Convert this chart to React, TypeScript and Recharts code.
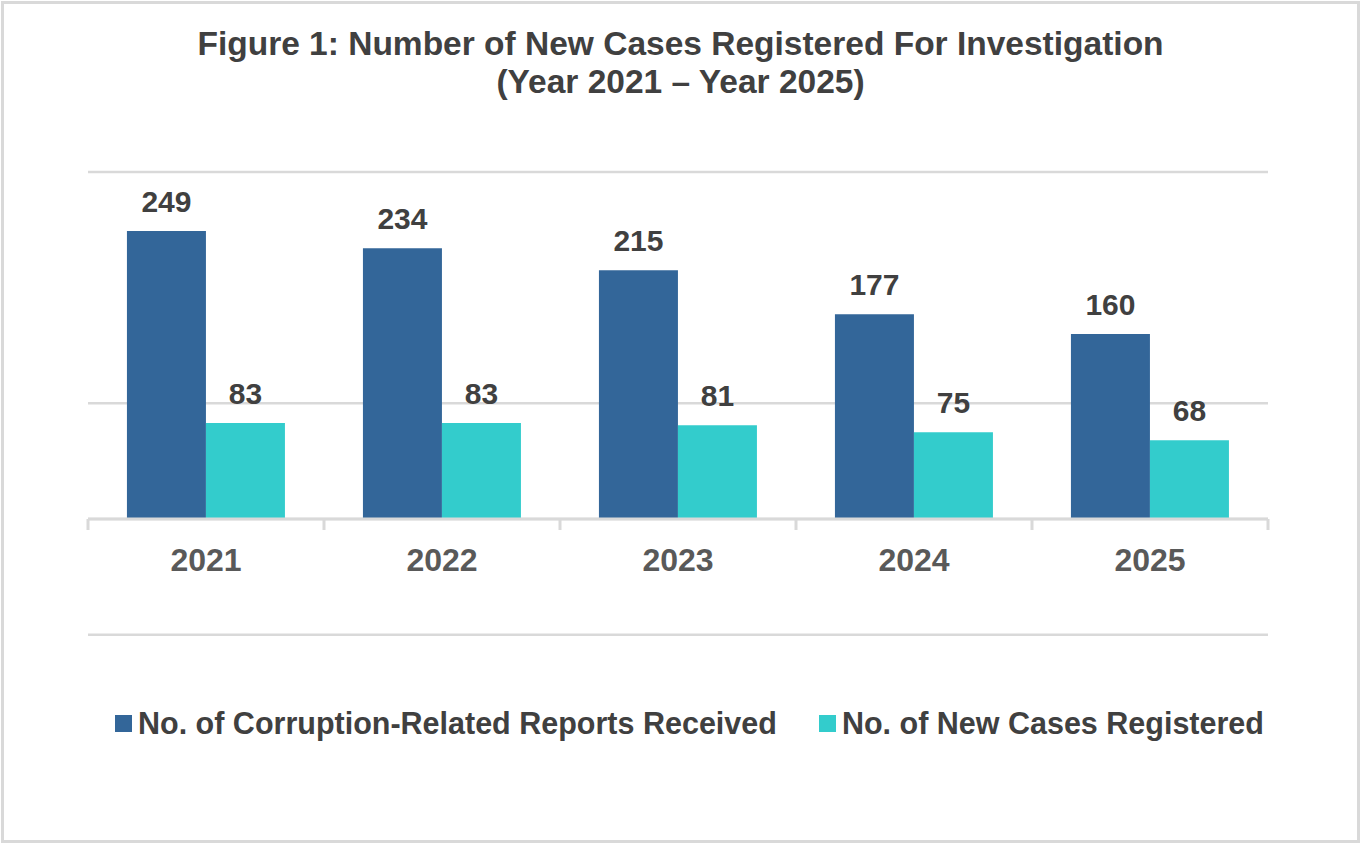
import { BarChart, Bar, XAxis, YAxis, CartesianGrid, ReferenceLine, LabelList } from 'recharts'

const years = ['2021', '2022', '2023', '2024', '2025']
const reportsReceived = [249, 234, 215, 177, 160]
const casesRegistered = [83, 83, 81, 75, 68]
const gridTicks = [0, 100, 300]

const data = years.map((year, i) => ({
  year,
  reports: reportsReceived[i],
  cases: casesRegistered[i],
}))

const W = 1361
const H = 844
const MARGIN = { top: 172, right: 93, left: 88, bottom: 209 }
const BAND = (W - MARGIN.left - MARGIN.right) / years.length

const BLUE = '#336699'
const CYAN = '#33CCCC'
const GRID = '#d9d9d9'
const FONT = '"Liberation Sans", Arial, sans-serif'

const YearTick = ({ x, y, payload, index }: any) => (
  <g>
    <line x1={x - BAND / 2} x2={x - BAND / 2} y1={y} y2={y + 11} stroke={GRID} strokeWidth={3} />
    {index === years.length - 1 && (
      <line x1={x + BAND / 2} x2={x + BAND / 2} y1={y} y2={y + 11} stroke={GRID} strokeWidth={3} />
    )}
    <text x={x} y={y + 52} textAnchor="middle" fontSize={32} fontWeight="bold" fill="#595959" fontFamily={FONT}>
      {payload.value}
    </text>
  </g>
)

const labelStyle = { fontSize: 30, fontWeight: 'bold', fill: '#404040', fontFamily: FONT }

const legendItems = [
  { name: 'No. of Corruption-Related Reports Received', color: BLUE },
  { name: 'No. of New Cases Registered', color: CYAN },
]

export default function App() {
  return (
    <div style={{ position: 'absolute', left: 0, top: 0, width: W, height: H, background: '#fff', fontFamily: FONT }}>
      <div
        style={{
          position: 'absolute',
          left: 1,
          top: 1,
          width: W - 2,
          height: H - 2,
          border: `3px solid ${GRID}`,
          boxSizing: 'border-box',
        }}
      />
      <div
        style={{
          position: 'absolute',
          left: 0,
          top: 25,
          width: W,
          textAlign: 'center',
          fontSize: 33.5,
          lineHeight: '38px',
          fontWeight: 'bold',
          color: '#404040',
        }}
      >
        Figure 1: Number of New Cases Registered For Investigation
        <br />
        (Year 2021 – Year 2025)
      </div>
      <BarChart width={W} height={H} data={data} margin={MARGIN} barCategoryGap="16.5%" barGap={0}>
        <CartesianGrid horizontal vertical={false} stroke={GRID} strokeWidth={2.5} />
        <ReferenceLine y={-100} ifOverflow="visible" stroke={GRID} strokeWidth={2.5} />
        <YAxis hide domain={[0, 300]} ticks={gridTicks} />
        <XAxis
          dataKey="year"
          axisLine={{ stroke: GRID, strokeWidth: 3 }}
          tickLine={false}
          tickSize={0}
          tickMargin={0}
          height={116}
          interval={0}
          tick={<YearTick />}
        />
        <Bar dataKey="reports" fill={BLUE} isAnimationActive={false}>
          <LabelList dataKey="reports" position="top" offset={19} style={labelStyle} />
        </Bar>
        <Bar dataKey="cases" fill={CYAN} isAnimationActive={false}>
          <LabelList dataKey="cases" position="top" offset={19} style={labelStyle} />
        </Bar>
      </BarChart>
      <div
        style={{
          position: 'absolute',
          left: 115,
          top: 705,
          display: 'flex',
          alignItems: 'center',
          gap: 42,
          fontSize: 30.5,
          fontWeight: 'bold',
          color: '#404040',
          lineHeight: '36px',
        }}
      >
        {legendItems.map((item) => (
          <div key={item.name} style={{ display: 'flex', alignItems: 'center', gap: 6 }}>
            <span style={{ width: 17, height: 17, background: item.color, display: 'inline-block' }} />
            <span>{item.name}</span>
          </div>
        ))}
      </div>
    </div>
  )
}
